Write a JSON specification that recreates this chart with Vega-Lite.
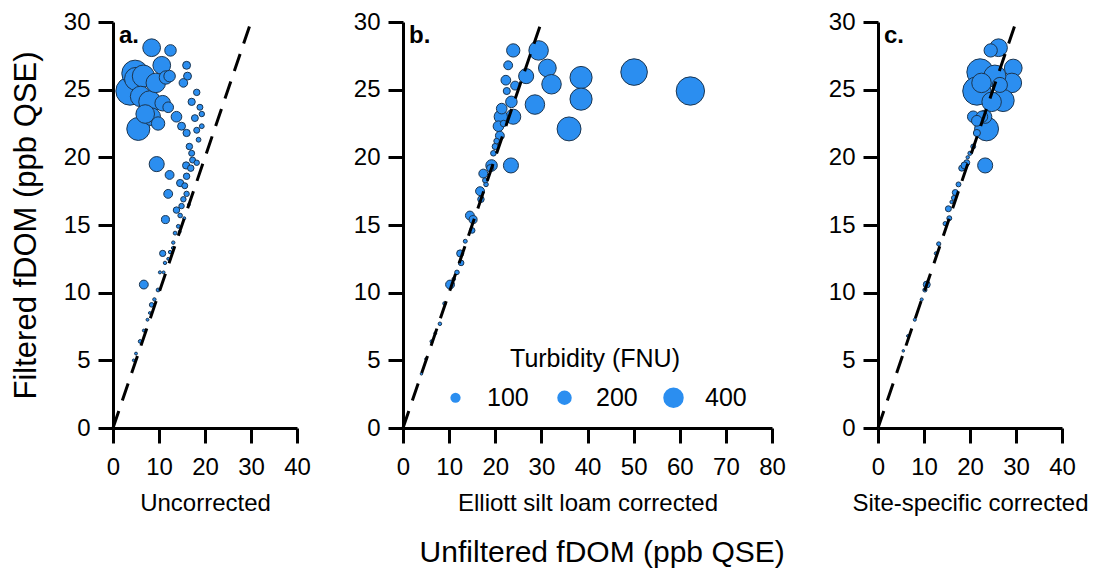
{
  "$schema": "https://vega.github.io/schema/vega-lite/v6.json",
  "background": "white",
  "padding": {"left": 10, "top": 10, "right": 5, "bottom": 5},
  "datasets": {
    "a": [
      {"x": 3.7, "y": 24.9, "t": 766}, {"x": 4.8, "y": 26.2, "t": 673}, {"x": 5.0, "y": 25.8, "t": 500},
      {"x": 6.6, "y": 26.0, "t": 467}, {"x": 5.5, "y": 22.1, "t": 505}, {"x": 6.0, "y": 24.5, "t": 400},
      {"x": 8.4, "y": 28.1, "t": 299}, {"x": 12.5, "y": 27.9, "t": 126}, {"x": 8.0, "y": 24.1, "t": 467},
      {"x": 9.3, "y": 25.5, "t": 362}, {"x": 10.6, "y": 26.8, "t": 299}, {"x": 8.4, "y": 23.0, "t": 299},
      {"x": 7.0, "y": 23.2, "t": 330}, {"x": 10.8, "y": 24.0, "t": 230}, {"x": 11.5, "y": 25.9, "t": 170},
      {"x": 9.8, "y": 22.5, "t": 170}, {"x": 12.0, "y": 23.7, "t": 108}, {"x": 12.3, "y": 26.0, "t": 126},
      {"x": 13.8, "y": 23.0, "t": 108}, {"x": 9.5, "y": 19.5, "t": 216}, {"x": 12.3, "y": 18.7, "t": 75},
      {"x": 12.0, "y": 17.3, "t": 75}, {"x": 11.4, "y": 15.4, "t": 61}, {"x": 10.8, "y": 12.9, "t": 37},
      {"x": 6.7, "y": 10.6, "t": 75},
      {"x": 16.0, "y": 26.8, "t": 60}, {"x": 16.2, "y": 26.0, "t": 60}, {"x": 15.3, "y": 25.5, "t": 70},
      {"x": 18.2, "y": 24.8, "t": 40}, {"x": 17.1, "y": 24.1, "t": 50}, {"x": 18.9, "y": 23.7, "t": 34},
      {"x": 19.3, "y": 23.2, "t": 28}, {"x": 17.8, "y": 22.9, "t": 45}, {"x": 14.9, "y": 22.3, "t": 60},
      {"x": 19.3, "y": 22.3, "t": 22}, {"x": 18.2, "y": 22.0, "t": 34}, {"x": 16.0, "y": 21.8, "t": 50},
      {"x": 18.6, "y": 21.3, "t": 22}, {"x": 16.6, "y": 20.8, "t": 40}, {"x": 17.1, "y": 20.3, "t": 34},
      {"x": 17.3, "y": 19.8, "t": 34}, {"x": 18.2, "y": 19.6, "t": 28}, {"x": 15.9, "y": 19.4, "t": 50},
      {"x": 16.9, "y": 19.2, "t": 40}, {"x": 16.0, "y": 18.6, "t": 40}, {"x": 14.6, "y": 18.1, "t": 50},
      {"x": 15.6, "y": 17.9, "t": 34}, {"x": 16.0, "y": 17.3, "t": 28}, {"x": 15.3, "y": 16.9, "t": 28},
      {"x": 14.9, "y": 16.4, "t": 28}, {"x": 13.8, "y": 16.1, "t": 40}, {"x": 14.6, "y": 15.7, "t": 20},
      {"x": 14.2, "y": 14.9, "t": 14}, {"x": 13.5, "y": 14.4, "t": 14}, {"x": 13.1, "y": 13.7, "t": 11},
      {"x": 12.4, "y": 13.0, "t": 11}, {"x": 11.3, "y": 12.2, "t": 11}, {"x": 10.2, "y": 11.5, "t": 9},
      {"x": 9.8, "y": 10.2, "t": 14}, {"x": 8.4, "y": 9.1, "t": 20}, {"x": 9.0, "y": 9.5, "t": 11},
      {"x": 7.5, "y": 8.0, "t": 8}, {"x": 6.7, "y": 7.2, "t": 8}, {"x": 5.9, "y": 6.4, "t": 13},
      {"x": 5.0, "y": 5.5, "t": 8}, {"x": 4.5, "y": 5.0, "t": 7}, {"x": 8.0, "y": 8.5, "t": 7},
      {"x": 11.0, "y": 11.5, "t": 8}, {"x": 12.0, "y": 12.5, "t": 8}, {"x": 13.0, "y": 13.3, "t": 8},
      {"x": 14.5, "y": 14.5, "t": 8}, {"x": 15.5, "y": 15.5, "t": 8}, {"x": 16.5, "y": 16.5, "t": 8}
    ],
    "b": [
      {"x": 62.3, "y": 24.9, "t": 766}, {"x": 50.1, "y": 26.3, "t": 673}, {"x": 38.6, "y": 25.9, "t": 467},
      {"x": 38.6, "y": 24.3, "t": 467}, {"x": 36.0, "y": 22.1, "t": 545}, {"x": 29.4, "y": 27.9, "t": 362},
      {"x": 31.3, "y": 26.6, "t": 299}, {"x": 32.2, "y": 25.4, "t": 362}, {"x": 28.6, "y": 23.9, "t": 362},
      {"x": 26.7, "y": 26.0, "t": 216}, {"x": 23.9, "y": 27.9, "t": 168}, {"x": 23.4, "y": 19.4, "t": 216},
      {"x": 23.9, "y": 23.0, "t": 216}, {"x": 21.2, "y": 23.0, "t": 168}, {"x": 22.8, "y": 26.8, "t": 75},
      {"x": 22.3, "y": 25.7, "t": 90}, {"x": 22.5, "y": 24.9, "t": 48}, {"x": 24.3, "y": 25.3, "t": 75},
      {"x": 23.5, "y": 24.1, "t": 126}, {"x": 21.4, "y": 23.6, "t": 108}, {"x": 20.7, "y": 22.3, "t": 108},
      {"x": 21.0, "y": 21.6, "t": 75}, {"x": 20.0, "y": 20.8, "t": 37}, {"x": 19.6, "y": 20.3, "t": 30},
      {"x": 19.2, "y": 19.4, "t": 126}, {"x": 18.9, "y": 19.2, "t": 50}, {"x": 17.4, "y": 18.8, "t": 75},
      {"x": 16.7, "y": 17.5, "t": 75}, {"x": 16.9, "y": 16.9, "t": 40}, {"x": 14.5, "y": 15.7, "t": 75},
      {"x": 15.2, "y": 15.4, "t": 61}, {"x": 15.0, "y": 14.6, "t": 30}, {"x": 12.4, "y": 12.9, "t": 48},
      {"x": 12.6, "y": 12.2, "t": 30}, {"x": 10.2, "y": 10.6, "t": 75}, {"x": 11.7, "y": 11.5, "t": 20},
      {"x": 8.0, "y": 7.7, "t": 12}, {"x": 6.2, "y": 6.4, "t": 10}, {"x": 9.0, "y": 9.2, "t": 12},
      {"x": 13.5, "y": 13.8, "t": 15}, {"x": 18.0, "y": 18.0, "t": 20}, {"x": 5.0, "y": 5.1, "t": 7},
      {"x": 4.0, "y": 4.0, "t": 6}, {"x": 21.8, "y": 22.5, "t": 40}, {"x": 20.3, "y": 21.2, "t": 30},
      {"x": 17.8, "y": 18.3, "t": 25}, {"x": 11.0, "y": 11.0, "t": 12}, {"x": 7.0, "y": 7.0, "t": 8}
    ],
    "c": [
      {"x": 26.2, "y": 28.1, "t": 299}, {"x": 24.5, "y": 27.9, "t": 168}, {"x": 22.2, "y": 26.3, "t": 673},
      {"x": 21.5, "y": 24.9, "t": 766}, {"x": 29.4, "y": 26.6, "t": 299}, {"x": 29.1, "y": 25.5, "t": 362},
      {"x": 25.4, "y": 26.0, "t": 467}, {"x": 27.2, "y": 24.2, "t": 467}, {"x": 24.7, "y": 24.1, "t": 362},
      {"x": 23.6, "y": 22.1, "t": 545}, {"x": 23.3, "y": 19.4, "t": 216}, {"x": 20.7, "y": 23.0, "t": 126},
      {"x": 23.3, "y": 23.0, "t": 168}, {"x": 21.5, "y": 21.8, "t": 48}, {"x": 26.5, "y": 25.35, "t": 216},
      {"x": 22.5, "y": 25.5, "t": 362}, {"x": 22.6, "y": 23.0, "t": 126}, {"x": 21.5, "y": 22.7, "t": 110},
      {"x": 20.7, "y": 20.8, "t": 23}, {"x": 20.0, "y": 20.3, "t": 17}, {"x": 19.3, "y": 19.6, "t": 34},
      {"x": 18.2, "y": 19.2, "t": 34}, {"x": 17.5, "y": 18.0, "t": 23}, {"x": 16.8, "y": 17.4, "t": 34},
      {"x": 16.0, "y": 16.7, "t": 11}, {"x": 15.3, "y": 16.2, "t": 34}, {"x": 14.6, "y": 15.1, "t": 17},
      {"x": 13.2, "y": 13.6, "t": 17}, {"x": 12.6, "y": 12.9, "t": 11}, {"x": 10.6, "y": 10.6, "t": 46},
      {"x": 10.2, "y": 10.2, "t": 17}, {"x": 9.5, "y": 9.5, "t": 9}, {"x": 8.0, "y": 8.0, "t": 9},
      {"x": 6.5, "y": 6.8, "t": 7}, {"x": 5.5, "y": 5.7, "t": 6}, {"x": 18.8, "y": 19.4, "t": 46},
      {"x": 19.5, "y": 20.0, "t": 11}, {"x": 16.5, "y": 17.0, "t": 23}, {"x": 15.5, "y": 15.5, "t": 23}
    ],
    "line": [{"x": 0, "y": 0}, {"x": 30, "y": 30}]
  },
  "title": {
    "text": "Unfiltered fDOM (ppb QSE)",
    "orient": "bottom",
    "anchor": "middle",
    "font": "Liberation Sans",
    "fontSize": 30,
    "fontWeight": "normal",
    "color": "black",
    "offset": 23,
    "dx": 53
  },
  "spacing": 106,
  "bounds": "flush",
  "resolve": {"scale": {"size": "independent"}, "legend": {"size": "independent"}},
  "hconcat": [
    {
      "width": 184,
      "height": 406,
      "layer": [
        {
          "data": {"name": "a"},
          "mark": {"type": "circle", "fill": "#2b8ef0", "stroke": "#1b3550", "strokeWidth": 1, "opacity": 1},
          "encoding": {
            "x": {"field": "x", "type": "quantitative", "scale": {"domain": [0, 40]}, "axis": {"values": [0, 10, 20, 30, 40], "title": "Uncorrected"}},
            "y": {"field": "y", "type": "quantitative", "scale": {"domain": [0, 30]}, "axis": {"values": [0, 5, 10, 15, 20, 25, 30], "title": "Filtered fDOM (ppb QSE)", "titleFontSize": 31, "titlePadding": 21}},
            "size": {"field": "t", "type": "quantitative", "scale": {"domain": [0, 400], "range": [0, 420], "zero": true}, "legend": null}
          }
        },
        {
          "data": {"name": "line"},
          "mark": {"type": "line", "stroke": "black", "strokeWidth": 3, "strokeDash": [18, 11]},
          "encoding": {"x": {"field": "x", "type": "quantitative"}, "y": {"field": "y", "type": "quantitative"}}
        },
        {
          "data": {"values": [{"label": "a.", "x": 0, "y": 30}]},
          "mark": {"type": "text", "font": "Liberation Sans", "fontSize": 24, "fontWeight": "bold", "align": "left", "baseline": "top", "dx": 6, "dy": 2, "color": "black"},
          "encoding": {"x": {"field": "x", "type": "quantitative"}, "y": {"field": "y", "type": "quantitative"}, "text": {"field": "label"}}
        }
      ]
    },
    {
      "width": 369,
      "height": 406,
      "layer": [
        {
          "data": {"name": "b"},
          "mark": {"type": "circle", "fill": "#2b8ef0", "stroke": "#1b3550", "strokeWidth": 1, "opacity": 1},
          "encoding": {
            "x": {"field": "x", "type": "quantitative", "scale": {"domain": [0, 80]}, "axis": {"values": [0, 10, 20, 30, 40, 50, 60, 70, 80], "title": "Elliott silt loam corrected"}},
            "y": {"field": "y", "type": "quantitative", "scale": {"domain": [0, 30]}, "axis": {"values": [0, 5, 10, 15, 20, 25, 30], "title": null}},
            "size": {
              "field": "t", "type": "quantitative",
              "scale": {"domain": [0, 400], "range": [0, 420], "zero": true},
              "legend": {
                "orient": "none", "legendX": 40, "legendY": 325, "direction": "horizontal",
                "title": "Turbidity (FNU)", "titleFontSize": 25, "titleFontWeight": "normal", "titleFont": "Liberation Sans", "titleColor": "black",
                "titleAnchor": "middle", "titlePadding": 13,
                "labelFontSize": 25, "labelFont": "Liberation Sans", "labelColor": "black",
                "values": [100, 200, 400], "symbolType": "circle",
                "symbolFillColor": "#2b8ef0", "symbolStrokeColor": "#1b3550", "symbolStrokeWidth": 1, "symbolOpacity": 1,
                "labelOffset": 19, "columnPadding": 23
              }
            }
          }
        },
        {
          "data": {"name": "line"},
          "mark": {"type": "line", "stroke": "black", "strokeWidth": 3, "strokeDash": [18, 11]},
          "encoding": {"x": {"field": "x", "type": "quantitative"}, "y": {"field": "y", "type": "quantitative"}}
        },
        {
          "data": {"values": [{"label": "b.", "x": 0, "y": 30}]},
          "mark": {"type": "text", "font": "Liberation Sans", "fontSize": 24, "fontWeight": "bold", "align": "left", "baseline": "top", "dx": 6, "dy": 2, "color": "black"},
          "encoding": {"x": {"field": "x", "type": "quantitative"}, "y": {"field": "y", "type": "quantitative"}, "text": {"field": "label"}}
        }
      ]
    },
    {
      "width": 184,
      "height": 406,
      "layer": [
        {
          "data": {"name": "c"},
          "mark": {"type": "circle", "fill": "#2b8ef0", "stroke": "#1b3550", "strokeWidth": 1, "opacity": 1},
          "encoding": {
            "x": {"field": "x", "type": "quantitative", "scale": {"domain": [0, 40]}, "axis": {"values": [0, 10, 20, 30, 40], "title": "Site-specific corrected"}},
            "y": {"field": "y", "type": "quantitative", "scale": {"domain": [0, 30]}, "axis": {"values": [0, 5, 10, 15, 20, 25, 30], "title": null}},
            "size": {"field": "t", "type": "quantitative", "scale": {"domain": [0, 400], "range": [0, 420], "zero": true}, "legend": null}
          }
        },
        {
          "data": {"name": "line"},
          "mark": {"type": "line", "stroke": "black", "strokeWidth": 3, "strokeDash": [18, 11]},
          "encoding": {"x": {"field": "x", "type": "quantitative"}, "y": {"field": "y", "type": "quantitative"}}
        },
        {
          "data": {"values": [{"label": "c.", "x": 0, "y": 30}]},
          "mark": {"type": "text", "font": "Liberation Sans", "fontSize": 24, "fontWeight": "bold", "align": "left", "baseline": "top", "dx": 6, "dy": 2, "color": "black"},
          "encoding": {"x": {"field": "x", "type": "quantitative"}, "y": {"field": "y", "type": "quantitative"}, "text": {"field": "label"}}
        }
      ]
    }
  ],
  "config": {
    "view": {"stroke": null},
    "axis": {
      "grid": false,
      "domainColor": "black", "domainWidth": 3,
      "tickColor": "black", "tickWidth": 3, "tickSize": 15,
      "labelFont": "Liberation Sans", "labelFontSize": 24, "labelColor": "black", "labelPadding": 8,
      "titleFont": "Liberation Sans", "titleFontSize": 24, "titleFontWeight": "normal", "titleColor": "black", "titlePadding": 8
    },
    "axisX": {"labelFlush": false, "labelOverlap": false, "labelPadding": 12, "titlePadding": 12},
    "axisY": {"labelFlush": false, "labelOverlap": false}
  }
}
